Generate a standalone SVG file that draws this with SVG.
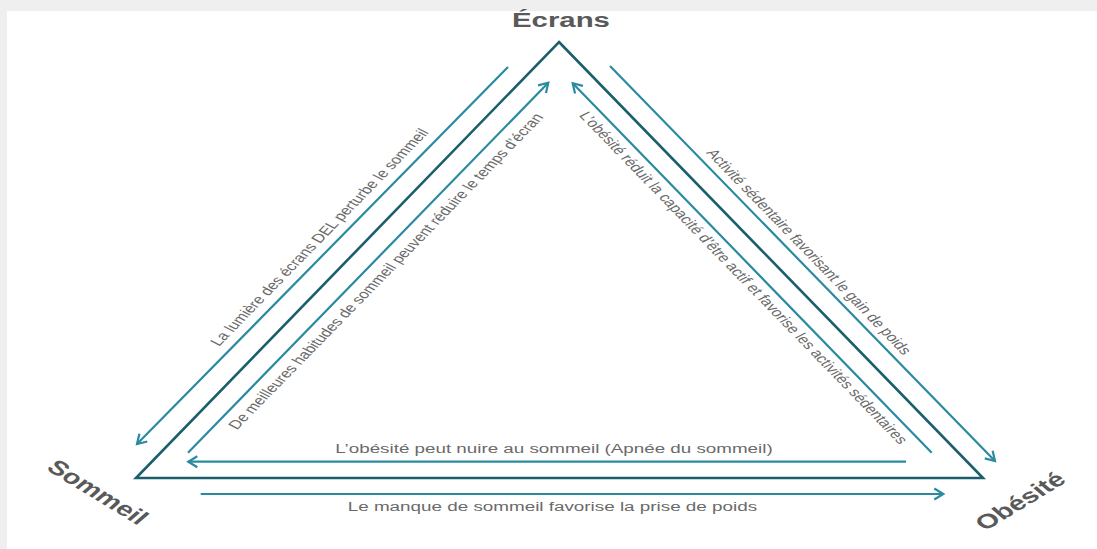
<svg xmlns="http://www.w3.org/2000/svg" width="1097" height="549" viewBox="0 0 1097 549">
<style>
.tri{fill:none;stroke:#1b5f6c;stroke-width:2.6;stroke-linejoin:miter}
.arr{fill:none;stroke:#2a8ba0;stroke-width:2.2;marker-end:url(#ah)}
.lbl{font-family:"Liberation Sans",Arial,sans-serif;font-size:12.5px;fill:#6a6a6a}
.hd{font-family:"Liberation Sans",Arial,sans-serif;font-size:20px;font-weight:bold;fill:#595959}
</style>
<defs>
<marker id="ah" viewBox="-12 -8 14 16" refX="0" refY="0" markerWidth="14" markerHeight="16" markerUnits="userSpaceOnUse" orient="auto" overflow="visible">
<path d="M-9,-5.5 L0,0 L-9,5.5" fill="none" stroke="#2a8ba0" stroke-width="2.2" stroke-linejoin="miter"/>
</marker>
</defs>
<rect x="0" y="0" width="1097" height="549" fill="#efefef"/>
<rect x="7" y="11" width="1090" height="538" fill="#ffffff"/>
<g id="triangle"><polygon class="tri" points="559,42 983,478 136,478"/></g>
<g id="connectors">
<path class="arr" d="M508,67 L137,444"/>
<path class="arr" d="M188,452.7 L548.3,82.7"/>
<path class="arr" d="M931.7,452.7 L572.7,83.3"/>
<path class="arr" d="M610,66 L995,461"/>
<path class="arr" d="M906,461.7 L188.3,461.7"/>
<path class="arr" d="M200.7,494 L943.3,494"/>
</g>
<g transform="scale(1.38,1)">
<g id="node-ecrans"><text class="hd" x="406.5" y="27" text-anchor="middle" textLength="71" lengthAdjust="spacingAndGlyphs">Écrans</text></g>
<g id="node-sommeil"><text class="hd" transform="translate(71,492) rotate(40)" text-anchor="middle" dominant-baseline="central" textLength="88" lengthAdjust="spacingAndGlyphs">Sommeil</text></g>
<g id="node-obesite"><text class="hd" transform="translate(739.1,501) rotate(-40)" text-anchor="middle" dominant-baseline="central" textLength="78" lengthAdjust="spacingAndGlyphs">Obésité</text></g>
<g id="labels">
<text class="lbl" transform="translate(231.2,237) rotate(-54.6)" text-anchor="middle" dominant-baseline="central" textLength="263" lengthAdjust="spacingAndGlyphs">La lumière des écrans DEL perturbe le sommeil</text>
<text class="lbl" transform="translate(279.3,271) rotate(-54.6)" text-anchor="middle" dominant-baseline="central" textLength="384" lengthAdjust="spacingAndGlyphs">De meilleures habitudes de sommeil peuvent réduire le temps d’écran</text>
<text class="lbl" transform="translate(539.1,277.5) rotate(54.8)" text-anchor="middle" dominant-baseline="central" textLength="403" lengthAdjust="spacingAndGlyphs">L’obésité réduit la capacité d’être actif et favorise les activités sédentaires</text>
<text class="lbl" transform="translate(586.6,251.5) rotate(54.8)" text-anchor="middle" dominant-baseline="central" textLength="248" lengthAdjust="spacingAndGlyphs">Activité sédentaire favorisant le gain de poids</text>
<text class="lbl" x="401.4" y="452.7" text-anchor="middle" font-size="13.5" textLength="317" lengthAdjust="spacingAndGlyphs">L’obésité peut nuire au sommeil (Apnée du sommeil)</text>
<text class="lbl" x="400.3" y="511" text-anchor="middle" font-size="13.5" textLength="296.6" lengthAdjust="spacingAndGlyphs">Le manque de sommeil favorise la prise de poids</text>
</g>
</g>
</svg>
